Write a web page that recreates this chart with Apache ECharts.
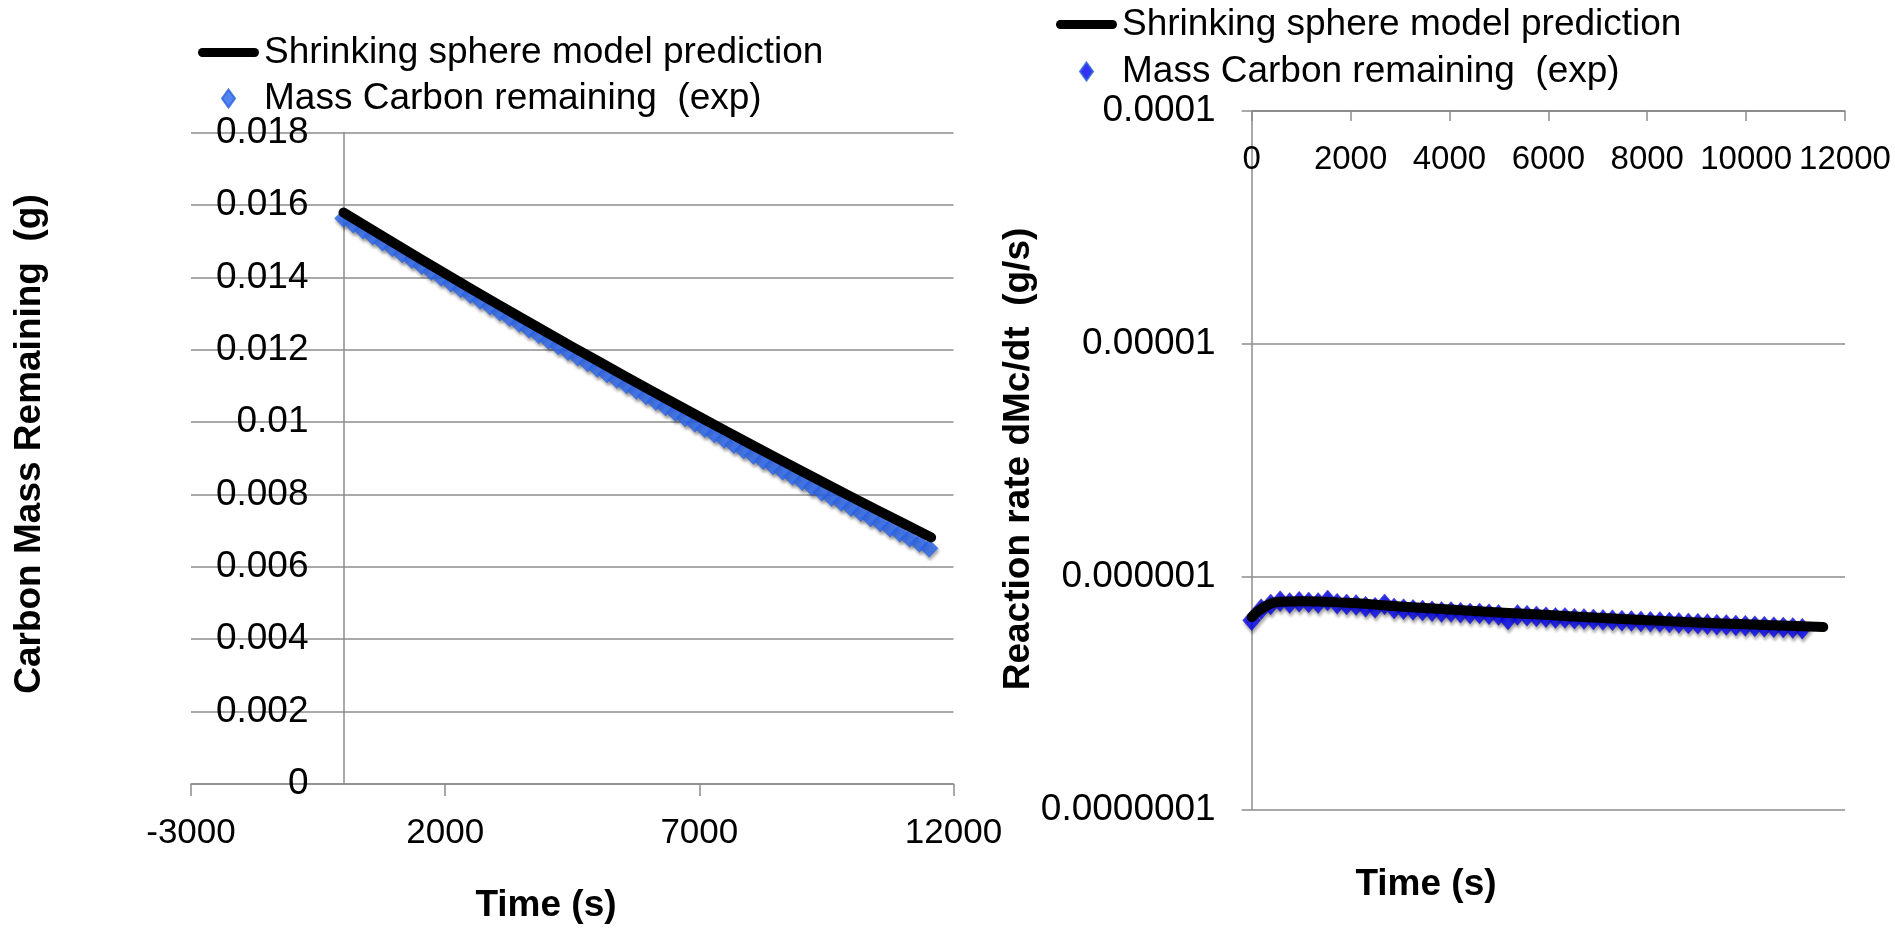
<!DOCTYPE html>
<html><head><meta charset="utf-8">
<script src="https://cdn.jsdelivr.net/npm/echarts@6/dist/echarts.min.js"></script>
<style>html,body{margin:0;padding:0;background:#fff}#c{width:1895px;height:930px}</style>
</head><body><div id="c"></div>
<script>
// ---- data ----
const seriesModelName = 'Shrinking sphere model prediction';
const seriesExpName = 'Mass Carbon remaining  (exp)';

const timeExp = [0,192,384,576,768,960,1152,1344,1536,1728,1920,2112,2304,2496,2688,2880,3072,3264,3456,3648,3840,4032,4224,4416,4608,4800,4992,5184,5376,5568,5760,5952,6144,6336,6528,6720,6912,7104,7296,7488,7680,7872,8064,8256,8448,8640,8832,9024,9216,9408,9600,9792,9984,10176,10368,10560,10752,10944,11136,11328,11520];
const massExp = [0.015630,0.015465,0.015300,0.015136,0.014972,0.014809,0.014646,0.014484,0.014322,0.014160,0.013999,0.013839,0.013678,0.013519,0.013359,0.013200,0.013042,0.012884,0.012726,0.012569,0.012413,0.012256,0.012101,0.011945,0.011791,0.011636,0.011482,0.011329,0.011176,0.011023,0.010871,0.010719,0.010568,0.010417,0.010266,0.010116,0.009967,0.009818,0.009669,0.009521,0.009373,0.009226,0.009079,0.008933,0.008787,0.008641,0.008496,0.008351,0.008207,0.008063,0.007920,0.007777,0.007635,0.007493,0.007351,0.007210,0.007070,0.006929,0.006790,0.006650,0.006511];
const rateExp = [6.50e-7,7.25e-7,7.60e-7,7.85e-7,7.70e-7,7.80e-7,7.75e-7,7.70e-7,7.90e-7,7.65e-7,7.60e-7,7.55e-7,7.42e-7,7.35e-7,7.60e-7,7.30e-7,7.25e-7,7.20e-7,7.15e-7,7.10e-7,7.05e-7,7.05e-7,7.00e-7,6.95e-7,6.95e-7,6.90e-7,6.85e-7,6.55e-7,6.85e-7,6.80e-7,6.75e-7,6.70e-7,6.65e-7,6.65e-7,6.60e-7,6.58e-7,6.55e-7,6.52e-7,6.50e-7,6.47e-7,6.45e-7,6.42e-7,6.40e-7,6.38e-7,6.35e-7,6.33e-7,6.30e-7,6.28e-7,6.25e-7,6.22e-7,6.20e-7,6.17e-7,6.15e-7,6.12e-7,6.10e-7,6.07e-7,6.05e-7,6.02e-7,5.98e-7];

const timeModel = [0,1000,2000,3000,4000,5000,6000,7000,8000,9000,10000,11000,11560];
const massModel = [0.015790,0.014940,0.014105,0.013285,0.012480,0.011690,0.010912,0.010148,0.009396,0.008656,0.007928,0.007212,0.006815];
const timeRateModel = [0,300,600,1000,2000,3000,4000,5000,6000,7000,8000,9000,10000,11000,11560];
const rateModel = [6.7e-7,7.5e-7,7.8e-7,7.85e-7,7.7e-7,7.45e-7,7.22e-7,7.02e-7,6.84e-7,6.66e-7,6.50e-7,6.36e-7,6.24e-7,6.14e-7,6.08e-7];

const leftXTicks = [-3000, 2000, 7000, 12000];
const rightYTickLabels = {'-7': '0.0000001', '-6': '0.000001', '-5': '0.00001', '-4': '0.0001'};

// ---- styles ----
const FONT = '"Liberation Sans", Arial, sans-serif';
const GRAY = '#8c8c8c';
const LEFT_BLUE = '#2864ee';
const RIGHT_BLUE = '#0000f0';
const lineIcon = 'path://M4.5,0 L56.5,0 A4.5,4.5 0 0 1 56.5,9 L4.5,9 A4.5,4.5 0 0 1 4.5,0 Z';
const diamondIcon = 'path://M6.5,0 L13,9 L6.5,18 L0,9 Z';

const pair = (xs, ys) => ys.map((y, i) => [xs[i], y]);
const plain = v => String(v);

const chart = echarts.init(document.getElementById('c'), null, {renderer: 'canvas'});

function legendFor(left, top, gap, blue) {
  return {
    orient: 'vertical', left: left, top: top, padding: 0, itemGap: gap,
    itemWidth: 61, itemHeight: 18, symbolKeepAspect: true, selectedMode: false,
    textStyle: {fontFamily: FONT, fontSize: 37, lineHeight: 37, color: '#000'},
    data: [
      {name: seriesModelName, icon: lineIcon, itemStyle: {color: '#000'}},
      {name: seriesExpName, icon: diamondIcon, itemStyle: {color: blue}}
    ]
  };
}

const axisLine = {show: true, onZero: false, lineStyle: {color: GRAY, width: 1.5}};
const split = {show: true, lineStyle: {color: GRAY, width: 1.5}};

chart.setOption({
  animation: false,
  backgroundColor: '#fff',
  legend: [legendFor(198, 34, 9, LEFT_BLUE), legendFor(1056, 6, 10, RIGHT_BLUE)],
  grid: [
    {left: 191, top: 132.6, width: 762.5, height: 651.4, containLabel: false, outerBoundsMode: 'none'},
    {left: 1251.7, top: 111, width: 593.3, height: 698.5, containLabel: false, outerBoundsMode: 'none'}
  ],
  xAxis: [
    {
      type: 'value', gridIndex: 0, min: -3000, max: 12000,
      axisLine: axisLine, splitLine: {show: false},
      axisTick: {show: true, length: 12, lineStyle: {color: GRAY, width: 1.5}, customValues: leftXTicks},
      axisLabel: {fontFamily: FONT, fontSize: 35, lineHeight: 35, color: '#000', margin: 32, customValues: leftXTicks, formatter: plain}
    },
    {
      type: 'value', gridIndex: 1, min: 0, max: 12000, interval: 2000, position: 'top',
      axisLine: axisLine, splitLine: {show: false},
      axisTick: {show: true, inside: true, length: 10, lineStyle: {color: GRAY, width: 1.5}},
      axisLabel: {inside: true, interval: 0, hideOverlap: false, showMinLabel: true, showMaxLabel: true,
        fontFamily: FONT, fontSize: 33, lineHeight: 33, color: '#000', margin: 32, formatter: plain}
    }
  ],
  yAxis: [
    {
      type: 'value', gridIndex: 0, min: 0, max: 0.018, interval: 0.002, offset: -152.5,
      axisLine: axisLine, splitLine: split, axisTick: {show: false},
      axisLabel: {fontFamily: FONT, fontSize: 37, color: '#000', margin: 35}
    },
    {
      type: 'log', gridIndex: 1, logBase: 10, min: 1e-7, max: 1e-4,
      axisLine: axisLine, splitLine: split,
      axisTick: {show: true, length: 10, lineStyle: {color: GRAY, width: 1.5}},
      axisLabel: {
        fontFamily: FONT, fontSize: 37, color: '#000', margin: 36,
        formatter: v => rightYTickLabels[String(Math.round(Math.log10(v)))] || ''
      }
    }
  ],
  series: [
    {
      name: seriesModelName, type: 'line', xAxisIndex: 0, yAxisIndex: 0,
      data: pair(timeModel, massModel), symbol: 'none', smooth: true,
      lineStyle: {color: '#000', width: 10, cap: 'round', join: 'round'}, itemStyle: {color: '#000'}
    },
    {
      name: seriesExpName, type: 'scatter', xAxisIndex: 0, yAxisIndex: 0,
      data: pair(timeExp, massExp), symbol: 'diamond', symbolSize: 18,
      itemStyle: {color: LEFT_BLUE, borderColor: '#2a5fd8', borderWidth: 0.5, shadowColor: 'rgba(0,0,0,0.4)', shadowBlur: 3, shadowOffsetX: 1, shadowOffsetY: 3}
    },
    {
      name: seriesModelName, type: 'line', xAxisIndex: 1, yAxisIndex: 1,
      data: pair(timeRateModel, rateModel), symbol: 'none', smooth: true,
      lineStyle: {color: '#000', width: 10, cap: 'round', join: 'round'}, itemStyle: {color: '#000'}
    },
    {
      name: seriesExpName, type: 'scatter', xAxisIndex: 1, yAxisIndex: 1,
      data: pair(timeExp, rateExp), symbol: 'diamond', symbolSize: [18, 21],
      itemStyle: {color: RIGHT_BLUE, borderColor: '#3a2fb0', borderWidth: 0.6, shadowColor: 'rgba(0,0,0,0.4)', shadowBlur: 3, shadowOffsetX: 1, shadowOffsetY: 3}
    }
  ],
  graphic: [
    {type: 'text', x: 546, y: 906, style: {text: 'Time (s)', fontFamily: FONT, fontSize: 37, fontWeight: 'bold', fill: '#000', align: 'center', verticalAlign: 'middle'}},
    {type: 'text', x: 1426, y: 885, style: {text: 'Time (s)', fontFamily: FONT, fontSize: 37, fontWeight: 'bold', fill: '#000', align: 'center', verticalAlign: 'middle'}},
    {type: 'text', x: 30, y: 444, rotation: Math.PI / 2, style: {text: 'Carbon Mass Remaining  (g)', fontFamily: FONT, fontSize: 37, fontWeight: 'bold', fill: '#000', align: 'center', verticalAlign: 'middle'}},
    {type: 'text', x: 1019, y: 459, rotation: Math.PI / 2, style: {text: 'Reaction rate dMc/dt  (g/s)', fontFamily: FONT, fontSize: 37, fontWeight: 'bold', fill: '#000', align: 'center', verticalAlign: 'middle'}}
  ]
});
</script></body></html>
